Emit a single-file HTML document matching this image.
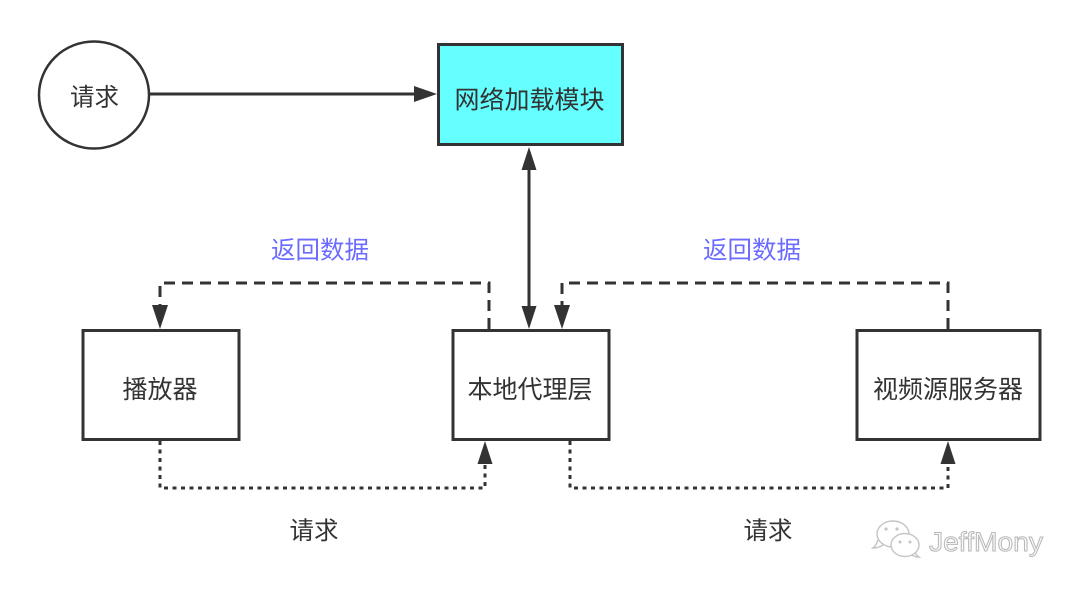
<!DOCTYPE html>
<html>
<head>
<meta charset="utf-8">
<style>
  html,body{margin:0;padding:0;background:#fff;}
  body{width:1080px;height:591px;overflow:hidden;}
  svg{display:block;}
  text{font-family:"Liberation Sans","Noto Sans CJK SC","WenQuanYi Zen Hei",sans-serif;}
</style>
</head>
<body>
<svg width="1080" height="591" viewBox="0 0 1080 591" xmlns="http://www.w3.org/2000/svg">
  <rect x="0" y="0" width="1080" height="591" fill="#ffffff"/>

  <!-- circle 请求 -->
  <ellipse cx="94" cy="95" rx="55" ry="53.5" fill="#ffffff" stroke="#333333" stroke-width="2.5"/>
  <text x="94.5" y="105.5" font-size="24.5" fill="#333333" text-anchor="middle">请求</text>

  <!-- arrow circle -> network module -->
  <line x1="149" y1="94" x2="418" y2="94" stroke="#333333" stroke-width="3"/>
  <polygon points="437,94 414,86 414,102" fill="#333333"/>

  <!-- network module -->
  <rect x="438.5" y="44.5" width="184" height="100" fill="#66ffff" stroke="#333333" stroke-width="3"/>
  <text x="529.5" y="108.5" font-size="25" fill="#333333" text-anchor="middle">网络加载模块</text>

  <!-- vertical double arrow -->
  <line x1="529" y1="165" x2="529" y2="310" stroke="#333333" stroke-width="3"/>
  <polygon points="529,147 521.5,170 536.5,170" fill="#333333"/>
  <polygon points="529,329 521.5,306 536.5,306" fill="#333333"/>

  <!-- boxes -->
  <rect x="83" y="330.5" width="156" height="109" fill="#ffffff" stroke="#333333" stroke-width="3"/>
  <text x="160" y="398" font-size="25" fill="#333333" text-anchor="middle">播放器</text>

  <rect x="453" y="330.5" width="156" height="109" fill="#ffffff" stroke="#333333" stroke-width="3"/>
  <text x="530" y="398" font-size="25" fill="#333333" text-anchor="middle">本地代理层</text>

  <rect x="857" y="330.5" width="183" height="109" fill="#ffffff" stroke="#333333" stroke-width="3"/>
  <text x="948" y="398" font-size="25" fill="#333333" text-anchor="middle">视频源服务器</text>

  <!-- dashed return lines -->
  <path d="M489,329 V283 H160 V306" fill="none" stroke="#333333" stroke-width="3" stroke-dasharray="11 7"/>
  <polygon points="160,329 152,305 168,305" fill="#333333"/>

  <path d="M948,329 V283 H562 V306" fill="none" stroke="#333333" stroke-width="3" stroke-dasharray="11 7"/>
  <polygon points="562,329 554,305 570,305" fill="#333333"/>

  <!-- dotted request lines -->
  <path d="M160,441 V488 H485 V464" fill="none" stroke="#333333" stroke-width="3" stroke-dasharray="4 4.5"/>
  <polygon points="485,441 477.5,464 492.5,464" fill="#333333"/>

  <path d="M570,441 V488 H948 V464" fill="none" stroke="#333333" stroke-width="3" stroke-dasharray="4 4.5"/>
  <polygon points="948,441 940.5,464 955.5,464" fill="#333333"/>

  <!-- labels -->
  <text x="320" y="258.5" font-size="24.5" fill="#6b6bff" text-anchor="middle">返回数据</text>
  <text x="752" y="258.5" font-size="24.5" fill="#6b6bff" text-anchor="middle">返回数据</text>
  <text x="314" y="539" font-size="24.5" fill="#333333" text-anchor="middle">请求</text>
  <text x="768" y="539" font-size="24.5" fill="#333333" text-anchor="middle">请求</text>

  <!-- watermark -->
  <g fill="#ffffff" stroke="#c4c4c4" stroke-width="1.4">
    <path d="M878,540 Q876,546 873,548 Q880,548 884,544"/>
    <ellipse cx="893" cy="534" rx="16" ry="13"/>
    <path d="M914,551 Q916,555 919,557 Q913,557 909,553"/>
    <ellipse cx="905" cy="545" rx="14" ry="11.5"/>
  </g>
  <g fill="#c4c4c4">
    <circle cx="886" cy="529" r="1.6"/>
    <circle cx="897" cy="529" r="1.6"/>
    <circle cx="900" cy="542" r="1.5"/>
    <circle cx="910" cy="542" r="1.5"/>
  </g>
  <text x="929" y="551" font-size="27" fill="#fbfbfb" stroke="#b8b8b8" stroke-width="1" textLength="114" lengthAdjust="spacingAndGlyphs">JeffMony</text>
</svg>
</body>
</html>
